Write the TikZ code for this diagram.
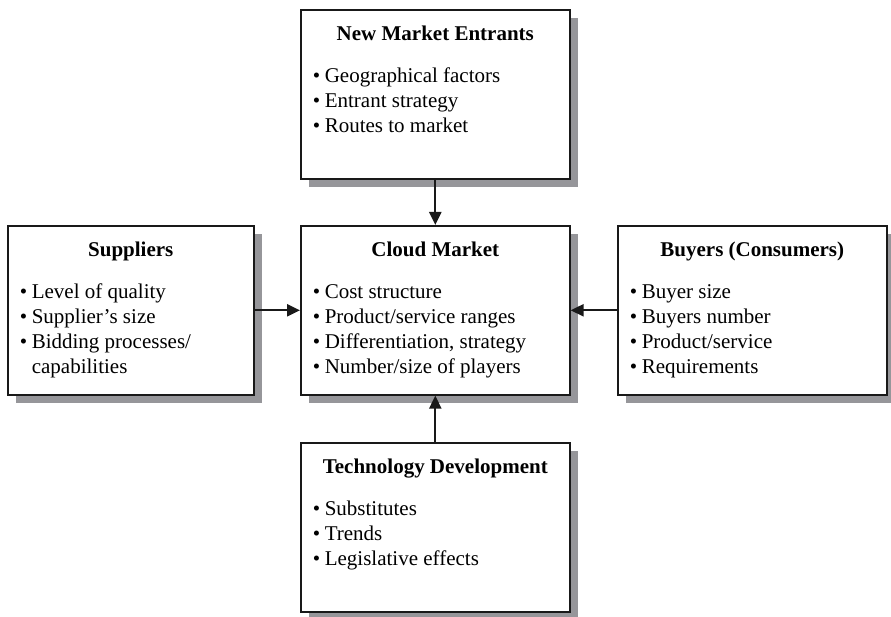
\documentclass[tikz,border=0pt]{standalone}
\usepackage{fontspec}
\setmainfont{Liberation Serif}
\usepackage{tikz}
\usetikzlibrary{arrows.meta,shadows}
\definecolor{ShadowGrey}{RGB}{150,150,154}
\definecolor{EdgeBlack}{RGB}{25,25,25}
\newcommand{\bulletline}[1]{\par\hangindent=12pt\hangafter=1\noindent\makebox[12pt][l]{\textbullet}#1}
\newcommand{\panelbody}[3]{%
  \parbox[t][169pt][t]{#1}{\fontsize{21}{25}\selectfont
    \centering\rule{0pt}{31pt}\textbf{#2}\par\vspace{17pt}%
    \raggedright\leftskip=12pt #3\par}}

\begin{document}
\begin{tikzpicture}[x=1pt, y=-1pt,
    panel/.style={draw=EdgeBlack, line width=1.6pt, fill=white, inner sep=0pt,
      anchor=north west,
      drop shadow={shadow xshift=8pt, shadow yshift=-8pt, fill=ShadowGrey, opacity=1}},
    link/.style={draw=EdgeBlack, line width=2.2pt, -{Triangle[length=13pt,width=12pt]}}]
    \useasboundingbox (0,0) rectangle (891,617);
    %% five forces boxes
    \node[panel] (entrants) at (300,9) {\panelbody{269pt}{New Market Entrants}{%
      \bulletline{Geographical factors}\bulletline{Entrant strategy}\bulletline{Routes to market}}};
    \node[panel] (market) at (300,225) {\panelbody{269pt}{Cloud Market}{%
      \bulletline{Cost structure}\bulletline{Product/service ranges}%
      \bulletline{Differentiation, strategy}\bulletline{Number/size of players}}};
    \node[panel] (suppliers) at (7,225) {\panelbody{246pt}{Suppliers}{%
      \bulletline{Level of quality}\bulletline{Supplier’s size}%
      \bulletline{Bidding processes/ capabilities}}};
    \node[panel] (buyers) at (617,225) {\panelbody{269pt}{Buyers (Consumers)}{%
      \bulletline{Buyer size}\bulletline{Buyers number}%
      \bulletline{Product/service}\bulletline{Requirements}}};
    \node[panel] (technology) at (300,442) {\panelbody{269pt}{Technology Development}{%
      \bulletline{Substitutes}\bulletline{Trends}\bulletline{Legislative effects}}};
    %% forces acting on the market
    \draw[link] (entrants.south) -- (market.north);
    \draw[link] (technology.north) -- (market.south);
    \draw[link] (suppliers.east) -- (market.west);
    \draw[link] (buyers.west) -- (market.east);
\end{tikzpicture}
\end{document}
